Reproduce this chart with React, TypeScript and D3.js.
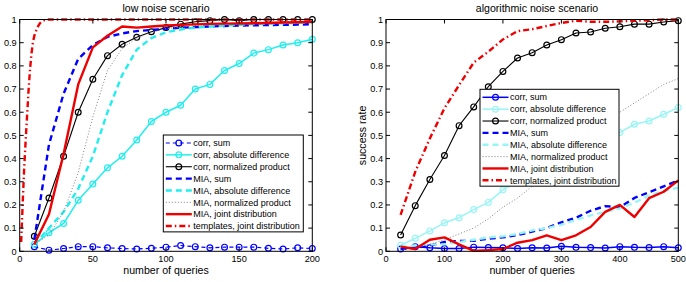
import * as d3 from 'd3';

// low noise scenario, queries 10..200
const lowQueries = [10, 20, 30, 40, 50, 60, 70, 80, 90, 100, 110, 120, 130, 140, 150, 160, 170, 180, 190, 200];
const lowCorrSum = [0.02, 0.005, 0.012, 0.02, 0.02, 0.015, 0.012, 0.01, 0.013, 0.018, 0.025, 0.02, 0.015, 0.018, 0.018, 0.018, 0.013, 0.01, 0.015, 0.012];
const lowCorrAbs = [0.03, 0.08, 0.12, 0.22, 0.29, 0.36, 0.41, 0.48, 0.56, 0.6, 0.63, 0.7, 0.72, 0.78, 0.81, 0.855, 0.87, 0.89, 0.9, 0.915];
const lowCorrNorm = [0.065, 0.23, 0.41, 0.6, 0.742, 0.844, 0.893, 0.923, 0.947, 0.965, 0.98, 0.99, 0.995, 1, 0.995, 1, 1, 1, 1, 1];
const lowMiaSum = [0.05, 0.46, 0.68, 0.83, 0.89, 0.925, 0.94, 0.95, 0.955, 0.96, 0.965, 0.967, 0.97, 0.972, 0.974, 0.975, 0.976, 0.977, 0.978, 0.98];
const lowMiaAbs = [0.03, 0.1, 0.17, 0.27, 0.41, 0.6, 0.76, 0.87, 0.92, 0.945, 0.957, 0.965, 0.97, 0.974, 0.977, 0.98, 0.982, 0.984, 0.986, 0.988];
const lowMiaNorm = [0.03, 0.07, 0.17, 0.34, 0.58, 0.78, 0.875, 0.92, 0.945, 0.96, 0.968, 0.974, 0.978, 0.981, 0.984, 0.986, 0.988, 0.989, 0.99, 0.99];
const lowMiaJoint = [0.03, 0.16, 0.42, 0.72, 0.88, 0.93, 0.97, 0.965, 0.97, 0.974, 0.977, 0.979, 0.981, 0.982, 0.983, 0.984, 0.985, 0.987, 0.988, 0.99];
const lowTplQueries = [1, 2, 3, 4, 5, 6, 7, 8, 9, 10, 12, 14, 16, 18, 20, 30, 40, 50, 60, 70, 80, 90, 100, 110, 120, 130, 140, 150, 160, 170, 180, 190, 200];
const lowTemplates = [0.04, 0.2, 0.35, 0.47, 0.58, 0.69, 0.78, 0.85, 0.9, 0.93, 0.965, 0.985, 0.995, 1, 1, 1, 1, 1, 1, 1, 1, 1, 1, 1, 1, 1, 1, 1, 1, 1, 1, 1, 1];

// algorithmic noise scenario, queries 25..500
const highQueries = [25, 50, 75, 100, 125, 150, 175, 200, 225, 250, 275, 300, 325, 350, 375, 400, 425, 450, 475, 500];
const highCorrSum = [0.01, 0.02, 0.015, 0.012, 0.012, 0.018, 0.016, 0.015, 0.012, 0.015, 0.014, 0.022, 0.017, 0.016, 0.014, 0.02, 0.017, 0.016, 0.02, 0.015];
const highCorrAbs = [0.026, 0.056, 0.088, 0.123, 0.145, 0.18, 0.211, 0.265, 0.3, 0.33, 0.36, 0.39, 0.42, 0.45, 0.48, 0.513, 0.548, 0.562, 0.591, 0.62];
const highCorrNorm = [0.07, 0.197, 0.31, 0.413, 0.542, 0.623, 0.71, 0.776, 0.834, 0.857, 0.89, 0.913, 0.942, 0.946, 0.962, 0.969, 0.98, 0.98, 0.989, 0.995];
const highMiaSum = [0.01, 0.015, 0.025, 0.04, 0.045, 0.045, 0.055, 0.06, 0.07, 0.085, 0.1, 0.125, 0.145, 0.175, 0.195, 0.19, 0.23, 0.255, 0.28, 0.305];
const highMiaAbs = [0.02, 0.025, 0.03, 0.03, 0.04, 0.05, 0.06, 0.065, 0.075, 0.09, 0.1, 0.115, 0.135, 0.155, 0.17, 0.185, 0.21, 0.24, 0.26, 0.275];
const highMiaNorm = [0.005, 0.015, 0.03, 0.05, 0.075, 0.1, 0.14, 0.19, 0.23, 0.28, 0.33, 0.38, 0.43, 0.48, 0.54, 0.6, 0.64, 0.68, 0.72, 0.745];
const highMiaJoint = [0.02, 0.01, 0.05, 0.06, 0.03, 0.002, 0.005, 0.01, 0.037, 0.048, 0.069, 0.048, 0.069, 0.105, 0.17, 0.2, 0.148, 0.229, 0.257, 0.306];
const highTemplates = [0.157, 0.343, 0.487, 0.617, 0.717, 0.814, 0.861, 0.914, 0.95, 0.958, 0.972, 0.985, 0.995, 0.99, 0.99, 0.992, 0.995, 0.997, 1, 1];

const legendLabels = [
  'corr, sum',
  'corr, absolute difference',
  'corr, normalized product',
  'MIA, sum',
  'MIA, absolute difference',
  'MIA, normalized product',
  'MIA, joint distribution',
  'templates, joint distribution',
];
const yTicks = [0, 0.1, 0.2, 0.3, 0.4, 0.5, 0.6, 0.7, 0.8, 0.9, 1];
const lowXTicks = [0, 50, 100, 150, 200];
const highXTicks = [0, 100, 200, 300, 400, 500];

const FONT = 'Liberation Sans, Arial, Helvetica, sans-serif';
const BLUE = '#0000ff';
const RED = '#ee0000';
const GRAY = '#808080';

type Style = { color: string; width: number; dash?: string; marker?: boolean };
type Series = Style & { label: string; x: number[]; y: number[] };

const lowStyles: Style[] = [
  { color: BLUE, width: 1.2, dash: '4,3', marker: true },
  { color: '#22eeee', width: 1.5, marker: true },
  { color: '#000', width: 1.1, marker: true },
  { color: BLUE, width: 2.4, dash: '6,4' },
  { color: '#22eeee', width: 2.4, dash: '6,4' },
  { color: GRAY, width: 1, dash: '1,2' },
  { color: RED, width: 2.4 },
  { color: RED, width: 2.4, dash: '6,3,1.5,3' },
];

const highStyles: Style[] = [
  { color: BLUE, width: 1.5, marker: true },
  { color: '#99f5f5', width: 1.5, marker: true },
  { color: '#000', width: 1.1, marker: true },
  { color: BLUE, width: 2.4, dash: '6,4' },
  { color: '#99f5f5', width: 2.4, dash: '6,4' },
  { color: GRAY, width: 1, dash: '1,2' },
  { color: RED, width: 2.4 },
  { color: RED, width: 2.4, dash: '6,3,1.5,3' },
];

const lowX = [lowQueries, lowQueries, lowQueries, lowQueries, lowQueries, lowQueries, lowQueries, lowTplQueries];
const lowY = [lowCorrSum, lowCorrAbs, lowCorrNorm, lowMiaSum, lowMiaAbs, lowMiaNorm, lowMiaJoint, lowTemplates];
const highY = [highCorrSum, highCorrAbs, highCorrNorm, highMiaSum, highMiaAbs, highMiaNorm, highMiaJoint, highTemplates];

const lowSeries: Series[] = legendLabels.map((label, i) => ({ label, x: lowX[i], y: lowY[i], ...lowStyles[i] }));
const highSeries: Series[] = legendLabels.map((label, i) => ({ label, x: highQueries, y: highY[i], ...highStyles[i] }));

type PanelProps = {
  left: number;
  right: number;
  title: string;
  titleX: number;
  xMax: number;
  xTicks: number[];
  series: Series[];
  legend: { x: number; y: number; w: number };
  yLabel?: string;
};

const TOP = 19.5;
const BOTTOM = 251.3;

function Panel({ left, right, title, titleX, xMax, xTicks, series, legend, yLabel }: PanelProps) {
  const x = d3.scaleLinear().domain([0, xMax]).range([left, right]);
  const y = d3.scaleLinear().domain([0, 1]).range([BOTTOM, TOP]);
  const rowH = 11.86;
  const legendH = rowH * 8 + 2;

  return (
    <g fontFamily={FONT}>
      <text x={titleX} y={11.5} fontSize={10.6} textAnchor="middle" fill="#000">
        {title}
      </text>
      {series.map((s, i) => {
        const pts = s.x.map((q, j) => [q, s.y[j]] as [number, number]);
        const line = d3
          .line<[number, number]>()
          .x((d) => x(d[0]))
          .y((d) => y(d[1]));
        return (
          <g key={i}>
            <path
              d={line(pts) || ''}
              fill="none"
              stroke={s.color}
              strokeWidth={s.width}
              strokeDasharray={s.dash}
              strokeLinejoin="round"
            />
            {s.marker &&
              pts.map((d, j) => (
                <circle key={j} cx={x(d[0])} cy={y(d[1])} r={2.9} fill="none" stroke={s.color} strokeWidth={1.2} />
              ))}
          </g>
        );
      })}
      {/* frame and inward ticks */}
      <rect x={left} y={TOP} width={right - left} height={BOTTOM - TOP} fill="none" stroke="#000" strokeWidth={1} />
      {yTicks.map((t) => (
        <g key={`y${t}`}>
          <line x1={left} x2={left + 4} y1={y(t)} y2={y(t)} stroke="#000" />
          <line x1={right - 4} x2={right} y1={y(t)} y2={y(t)} stroke="#000" />
          <text x={left - 3} y={y(t) + 3.3} fontSize={9.2} textAnchor="end" fill="#000">
            {String(t)}
          </text>
        </g>
      ))}
      {xTicks.map((t) => (
        <g key={`x${t}`}>
          <line x1={x(t)} x2={x(t)} y1={BOTTOM} y2={BOTTOM - 4} stroke="#000" />
          <line x1={x(t)} x2={x(t)} y1={TOP} y2={TOP + 4} stroke="#000" />
          <text x={x(t)} y={BOTTOM + 10.5} fontSize={9.2} textAnchor="middle" fill="#000">
            {String(t)}
          </text>
        </g>
      ))}
      <text x={(left + right) / 2} y={273.5} fontSize={10.6} textAnchor="middle" fill="#000">
        number of queries
      </text>
      {yLabel && (
        <text
          transform={`translate(${left - 20.5}, ${(TOP + BOTTOM) / 2}) rotate(-90)`}
          fontSize={10.6}
          textAnchor="middle"
          fill="#000"
        >
          {yLabel}
        </text>
      )}
      {/* legend */}
      <g transform={`translate(${legend.x}, ${legend.y})`}>
        <rect x={0} y={0} width={legend.w} height={legendH} fill="#fff" stroke="#000" strokeWidth={1} />
        {series.map((s, i) => {
          const cy = 8 + i * rowH;
          return (
            <g key={i}>
              <line x1={2.5} x2={28.5} y1={cy} y2={cy} stroke={s.color} strokeWidth={s.width} strokeDasharray={s.dash} />
              {s.marker && <circle cx={15.5} cy={cy} r={2.9} fill="none" stroke={s.color} strokeWidth={1.2} />}
              <text x={30} y={cy + 3.2} fontSize={9} fill="#000">
                {s.label}
              </text>
            </g>
          );
        })}
      </g>
    </g>
  );
}

export default function App() {
  return (
    <svg
      width={686}
      height={282}
      style={{ position: 'absolute', left: 0, top: 0, background: '#fff' }}
    >
      <rect width={686} height={282} fill="#fff" />
      <Panel
        left={19.7}
        right={312.3}
        title="low noise scenario"
        titleX={166}
        xMax={200}
        xTicks={lowXTicks}
        series={lowSeries}
        legend={{ x: 163.3, y: 135, w: 140 }}
      />
      <Panel
        left={386}
        right={678.3}
        title="algorithmic noise scenario"
        titleX={537}
        xMax={500}
        xTicks={highXTicks}
        series={highSeries}
        legend={{ x: 480, y: 89.3, w: 139 }}
        yLabel="success rate"
      />
    </svg>
  );
}
